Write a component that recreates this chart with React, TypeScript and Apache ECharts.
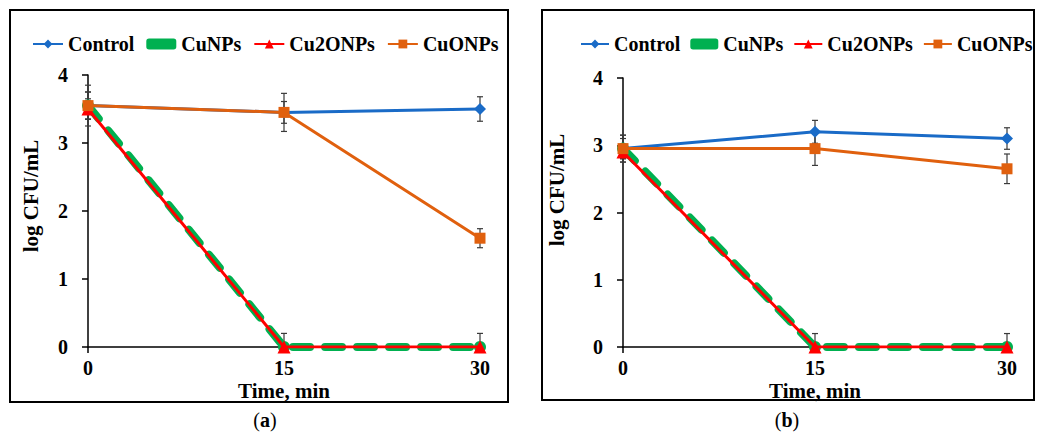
import React, { useEffect, useRef } from "react";
import * as echarts from "echarts";

// Sampling times (min)
const timeMin = [0, 15, 30];

// Panel (a): log CFU/mL
const aControl = [3.55, 3.45, 3.5];
const aCuNPs = [3.55, 0, 0];
const aCu2ONPs = [3.5, 0, 0];
const aCuONPs = [3.55, 3.45, 1.6];
// Panel (a): standard deviations
const aControlErr = [0.3, 0.28, 0.18];
const aCuNPsErr = [0.2, 0.2, 0.2];
const aCu2ONPsErr = [0.15, 0, 0];
const aCuONPsErr = [0.2, 0.16, 0.14];

// Panel (b): log CFU/mL
const bControl = [2.95, 3.2, 3.1];
const bCuNPs = [2.95, 0, 0];
const bCu2ONPs = [2.9, 0, 0];
const bCuONPs = [2.95, 2.95, 2.65];
// Panel (b): standard deviations
const bControlErr = [0.2, 0.17, 0.16];
const bCuNPsErr = [0.15, 0.2, 0.2];
const bCu2ONPsErr = [0.1, 0, 0];
const bCuONPsErr = [0.2, 0.25, 0.22];

const FONT = '"Liberation Serif", "Times New Roman", serif';
const BLUE = "#1A6BC7";
const GREEN = "#00B050";
const RED = "#FF0000";
const ORANGE = "#E0600E";

const pairs = (vals: number[]) => timeMin.map((t, i) => [t, vals[i]]);
const errTriples = (vals: number[], errs: number[]) =>
  timeMin.map((t, i) => [t, vals[i], errs[i]]);

function errorBarSeries(idx: number, vals: number[], errs: number[]) {
  return {
    type: "custom",
    xAxisIndex: idx,
    yAxisIndex: idx,
    silent: true,
    z: 1,
    data: errTriples(vals, errs),
    renderItem: (_p: any, api: any) => {
      const x = api.value(0);
      const y = api.value(1);
      const e = api.value(2);
      if (!e) return null;
      const top = api.coord([x, y + e]);
      const bot = api.coord([x, Math.max(0, y - e)]);
      const st = { stroke: "#3a3a3a", lineWidth: 1.2 };
      return {
        type: "group",
        children: [
          { type: "line", shape: { x1: top[0], y1: top[1], x2: bot[0], y2: bot[1] }, style: st },
          { type: "line", shape: { x1: top[0] - 3, y1: top[1], x2: top[0] + 3, y2: top[1] }, style: st },
          { type: "line", shape: { x1: bot[0] - 3, y1: bot[1], x2: bot[0] + 3, y2: bot[1] }, style: st },
        ],
      };
    },
  };
}

function panelSeries(
  idx: number,
  control: number[],
  cu: number[],
  cu2o: number[],
  cuo: number[],
  errs: number[][]
) {
  return [
    errorBarSeries(idx, control, errs[0]),
    errorBarSeries(idx, cu, errs[1]),
    errorBarSeries(idx, cu2o, errs[2]),
    errorBarSeries(idx, cuo, errs[3]),
    {
      name: "Control",
      type: "line",
      xAxisIndex: idx,
      yAxisIndex: idx,
      data: pairs(control),
      symbol: "diamond",
      symbolSize: 12,
      z: 2,
      lineStyle: { color: BLUE, width: 3 },
      itemStyle: { color: BLUE },
    },
    {
      name: "CuNPs",
      type: "line",
      xAxisIndex: idx,
      yAxisIndex: idx,
      data: pairs(cu),
      symbol: "circle",
      symbolSize: 12,
      z: 3,
      lineStyle: { color: GREEN, width: 8, type: [17, 15], cap: "round" },
      itemStyle: { color: GREEN },
    },
    {
      name: "Cu2ONPs",
      type: "line",
      xAxisIndex: idx,
      yAxisIndex: idx,
      data: pairs(cu2o),
      symbol: "triangle",
      symbolSize: 13,
      z: 4,
      lineStyle: { color: RED, width: 3 },
      itemStyle: { color: RED },
    },
    {
      name: "CuONPs",
      type: "line",
      xAxisIndex: idx,
      yAxisIndex: idx,
      data: pairs(cuo),
      symbol: "rect",
      symbolSize: 11,
      z: 5,
      lineStyle: { color: ORANGE, width: 3 },
      itemStyle: { color: ORANGE },
    },
  ];
}

const textBase = { color: "#000", fontFamily: FONT, fontWeight: "bold" as const };

function xAxis(idx: number) {
  return {
    type: "value",
    gridIndex: idx,
    min: 0,
    max: 30,
    interval: 15,
    name: "Time, min",
    nameLocation: "middle",
    nameGap: 35,
    nameMoveOverlap: false,
    nameTextStyle: { ...textBase, fontSize: 21, lineHeight: 17 },
    axisLine: { lineStyle: { color: "#000", width: 1.5 } },
    axisTick: { show: true, length: 6, lineStyle: { color: "#000", width: 1.5 } },
    axisLabel: { ...textBase, fontSize: 20, lineHeight: 16, margin: 13 },
    splitLine: { show: false },
  };
}

function yAxis(idx: number) {
  return {
    type: "value",
    gridIndex: idx,
    min: 0,
    max: 4,
    interval: 1,
    axisLine: { show: true, lineStyle: { color: "#000", width: 1.5 } },
    axisTick: { show: true, length: 6, lineStyle: { color: "#000", width: 1.5 } },
    axisLabel: { ...textBase, fontSize: 20, margin: 20 },
    splitLine: { show: false },
  };
}

function legend(left: number, iconW: number, gap: number) {
  return {
    left,
    top: 29,
    width: 520,
    itemWidth: iconW,
    itemHeight: 11,
    itemGap: gap,
    selectedMode: false,
    textStyle: { ...textBase, fontSize: 20 },
    data: [
      { name: "Control" },
      { name: "CuNPs", icon: "roundRect", itemStyle: { color: GREEN } },
      { name: "Cu2ONPs" },
      { name: "CuONPs" },
    ],
  };
}

function panelLabel(letter: string, cx: number) {
  return {
    type: "text",
    x: cx,
    y: 420,
    style: {
      text: `{p|(}{b|${letter}}{p|)}`,
      align: "center",
      verticalAlign: "middle",
      rich: {
        p: { fontFamily: FONT, fontSize: 20, fill: "#000" },
        b: { fontFamily: FONT, fontSize: 20, fontWeight: "bold", fill: "#000" },
      },
    },
  };
}

function yTitle(cx: number, cy: number) {
  return {
    type: "text",
    x: cx,
    y: cy,
    rotation: Math.PI / 2,
    style: {
      text: "log CFU/mL",
      align: "center",
      verticalAlign: "middle",
      fontFamily: FONT,
      fontWeight: "bold",
      fontSize: 21,
      fill: "#000",
    },
  };
}

export default function App() {
  const ref = useRef<HTMLDivElement>(null);

  useEffect(() => {
    if (!ref.current) return;
    const chart = echarts.init(ref.current, undefined, { renderer: "svg" });
    chart.setOption({
      animation: false,
      backgroundColor: "#fff",
      legend: [legend(27, 30, 12), legend(575, 28, 10)],
      grid: [
        { left: 88, top: 75, width: 392, height: 272 },
        { left: 623, top: 78, width: 384, height: 269 },
      ],
      xAxis: [xAxis(0), xAxis(1)],
      yAxis: [yAxis(0), yAxis(1)],
      series: [
        ...panelSeries(0, aControl, aCuNPs, aCu2ONPs, aCuONPs, [
          aControlErr,
          aCuNPsErr,
          aCu2ONPsErr,
          aCuONPsErr,
        ]),
        ...panelSeries(1, bControl, bCuNPs, bCu2ONPs, bCuONPs, [
          bControlErr,
          bCuNPsErr,
          bCu2ONPsErr,
          bCuONPsErr,
        ]),
      ],
      graphic: [
        {
          type: "rect",
          shape: { x: 10, y: 10, width: 498, height: 392 },
          style: { fill: "none", stroke: "#000", lineWidth: 2 },
          silent: true,
        },
        {
          type: "rect",
          shape: { x: 542, y: 10, width: 492, height: 390 },
          style: { fill: "none", stroke: "#000", lineWidth: 2 },
          silent: true,
        },
        yTitle(31, 196),
        yTitle(557, 190),
        panelLabel("a", 265),
        panelLabel("b", 787),
      ],
    });
    return () => chart.dispose();
  }, []);

  return (
    <div
      ref={ref}
      style={{ position: "absolute", left: 0, top: 0, width: 1037, height: 436 }}
    />
  );
}
